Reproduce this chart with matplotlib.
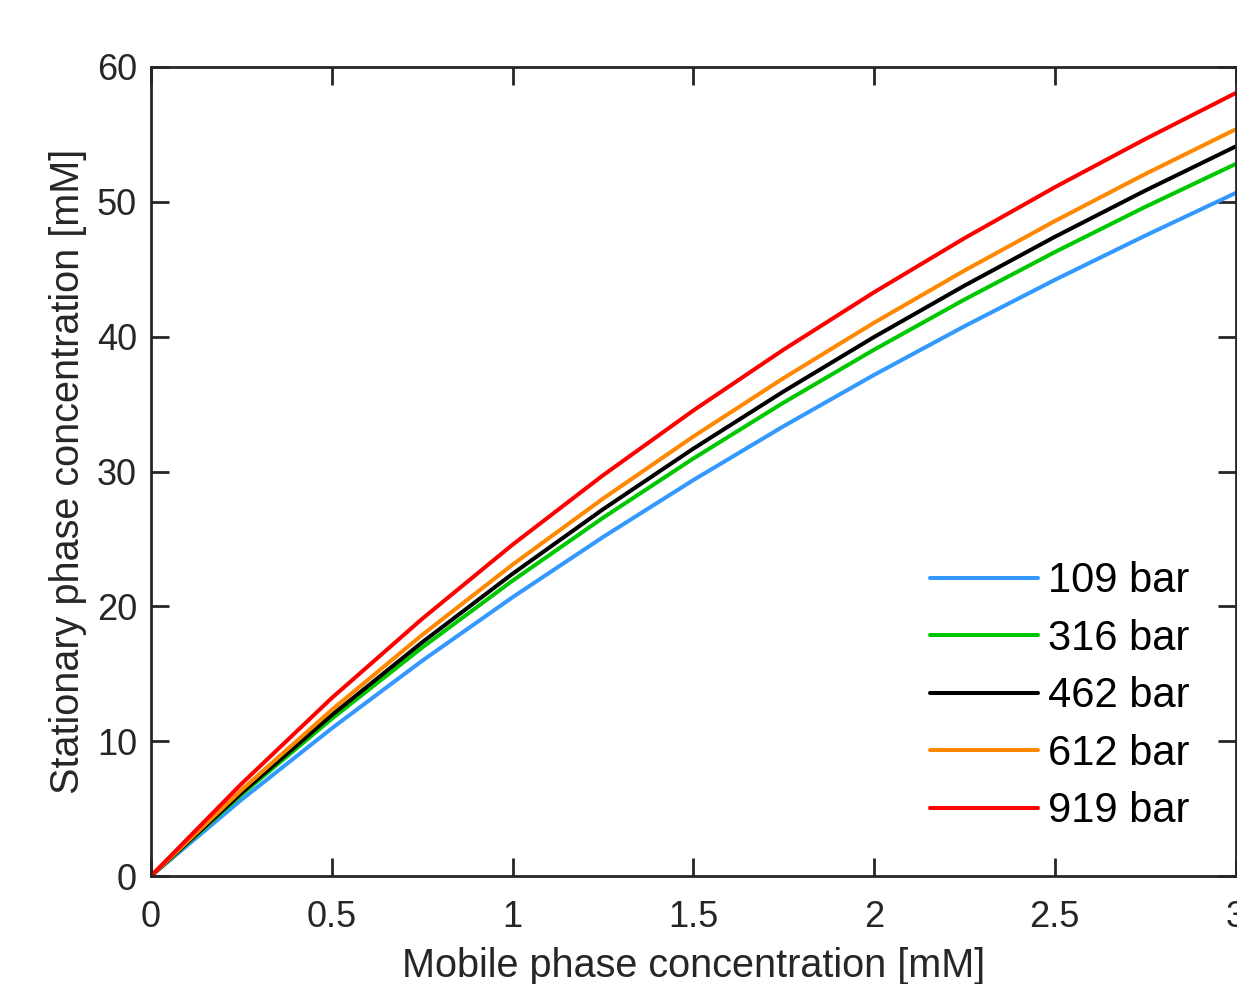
import matplotlib
matplotlib.use('Agg')
import matplotlib.pyplot as plt
import numpy as np

plt.rcParams['font.family'] = ['Liberation Sans', 'DejaVu Sans']

# mobile phase concentration [mM]
conc = [0, 0.25, 0.5, 0.75, 1.0, 1.25, 1.5, 1.75, 2.0, 2.25, 2.5, 2.75, 3.0]

# stationary phase concentration [mM]
q_109 = [0, 5.65, 10.95, 15.96, 20.67, 25.13, 29.36, 33.36, 37.16, 40.77, 44.21, 47.49, 50.65]
q_316 = [0, 6.03, 11.66, 16.94, 21.90, 26.56, 30.96, 35.11, 39.03, 42.75, 46.27, 49.62, 52.80]
q_462 = [0, 6.16, 11.93, 17.33, 22.41, 27.19, 31.69, 35.94, 39.97, 43.78, 47.40, 50.83, 54.10]
q_612 = [0, 6.37, 12.32, 17.88, 23.09, 27.98, 32.59, 36.93, 41.03, 44.90, 48.57, 52.06, 55.37]
q_919 = [0, 6.83, 13.20, 19.07, 24.57, 29.71, 34.52, 39.04, 43.29, 47.30, 51.08, 54.65, 58.06]

labels = ['109 bar', '316 bar', '462 bar', '612 bar', '919 bar']
colors = ['#3399ff', '#00c800', '#000000', '#ff8800', '#ff0000']
series = [q_109, q_316, q_462, q_612, q_919]

xticks = [0, 0.5, 1, 1.5, 2, 2.5, 3]
xticklabels = ['0', '0.5', '1', '1.5', '2', '2.5', '3']
yticks = [0, 10, 20, 30, 40, 50, 60]

fig = plt.figure(figsize=(12.37, 9.84), dpi=100)
ax = fig.add_axes([151/1237, 108/984, 1084.5/1237, 809/984])

for q, c, lab in zip(series, colors, labels):
    ax.plot(conc, q, color=c, lw=2.9, label=lab,
            solid_capstyle='round', solid_joinstyle='round')

ax.set_xlim(0, 3)
ax.set_ylim(0, 60)
ax.set_xticks(xticks)
ax.set_xticklabels(xticklabels)
ax.set_yticks(yticks)

dark = '#262626'
for s in ax.spines.values():
    s.set_color(dark)
    s.set_linewidth(2)
ax.tick_params(direction='in', length=13, width=2, color=dark,
               top=True, right=True, labelsize=26, labelcolor=dark)
ax.tick_params(axis='x', pad=17)
ax.tick_params(axis='y', pad=10)

ax.set_xlabel('Mobile phase concentration [mM]', fontsize=28.5, color=dark, labelpad=9)
ax.set_ylabel('Stationary phase concentration [mM]', fontsize=28.5, color=dark, labelpad=7)

leg = ax.legend(loc='upper left', bbox_to_anchor=(0.7187, 0.389), frameon=False,
                fontsize=30, handlelength=2.57, handletextpad=0.24,
                labelspacing=0.42, borderpad=0, borderaxespad=0)

fig.savefig('out.png', dpi=100)
